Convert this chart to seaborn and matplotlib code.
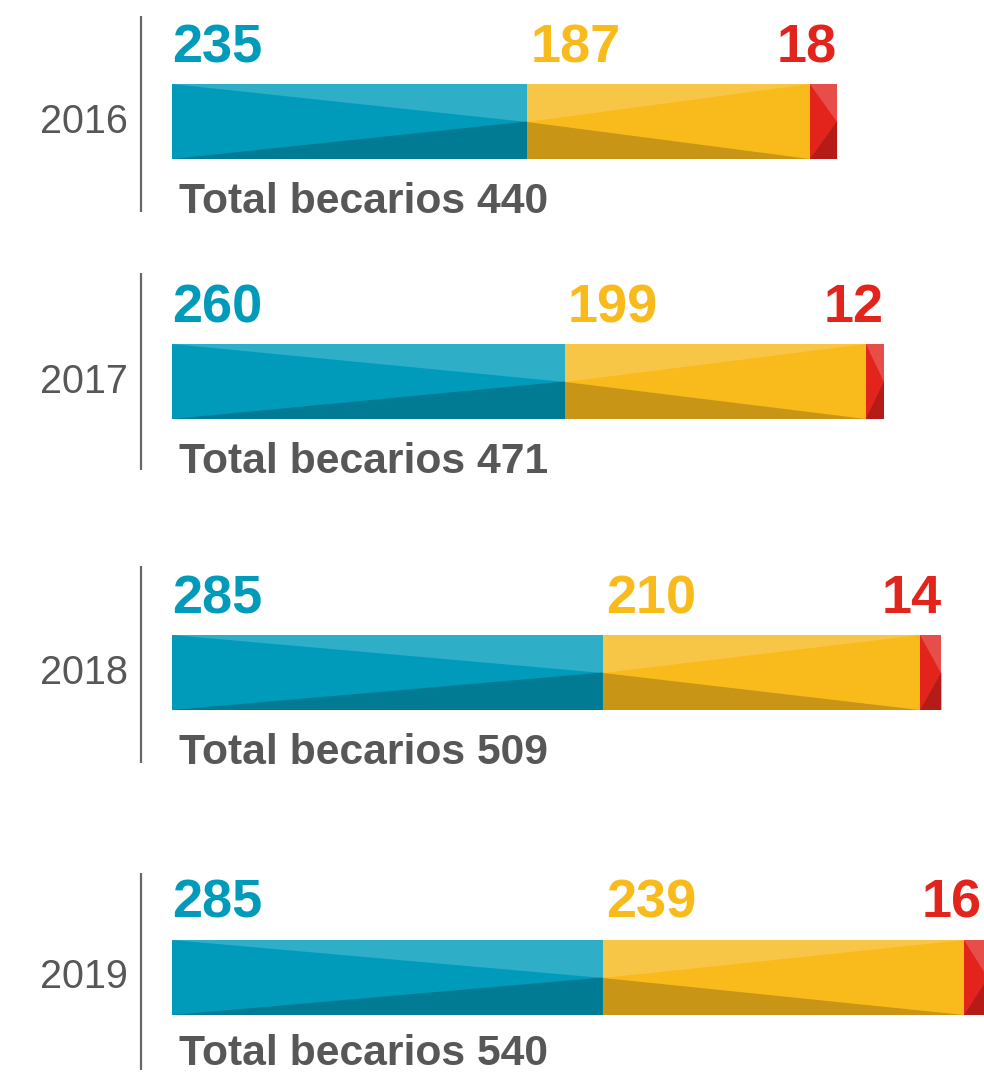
import numpy as np
import pandas as pd
import seaborn as sns
import matplotlib.pyplot as plt

# ==========================================
# DATOS
# ==========================================
years = ['2016', '2017', '2018', '2019']
grupo_a = [235, 260, 285, 285]   # azul
grupo_b = [187, 199, 210, 239]   # amarillo
grupo_c = [18, 12, 14, 16]       # rojo
totales = [440, 471, 509, 540]
total_label = 'Total becarios'

# ==========================================
# ESTILO / LAYOUT (en píxeles de la imagen)
# ==========================================
W, H = 984, 1073
PX_PER_UNIT = 1.5115
X0_PX = 172                       # inicio de las barras
bar_top = [84, 344, 635, 940]
bar_h = 75
total_gap = [54, 54, 54, 50]      # baseline del total bajo la barra
line_top = [16, 273, 566, 873]
line_bot = [212, 470, 763, 1070]
LINE_X_PX = 141

base = {'a': '#009BBB', 'b': '#F9BA1C', 'c': '#E3241C'}
light = {'a': '#2FAEC8', 'b': '#F8C646', 'c': '#E84E49'}
dark = {'a': '#017B93', 'b': '#C99517', 'c': '#B51C18'}
GREY = '#575757'

sns.set_style('white')
plt.rcParams['font.family'] = ['Liberation Sans', 'DejaVu Sans']

fig = plt.figure(figsize=(W / 100, H / 100), dpi=100)

def px2x(px):
    return (px - X0_PX) / PX_PER_UNIT

for i, yr in enumerate(years):
    a, b, c = grupo_a[i], grupo_b[i], grupo_c[i]
    rect = [0, 1 - (bar_top[i] + bar_h) / H, 1, bar_h / H]
    ax = fig.add_axes(rect)

    # barras apiladas: se dibuja de mayor a menor acumulado
    row = pd.DataFrame({'year': [yr], 'c': [a + b + c], 'b': [a + b], 'a': [a]})
    for key in ['c', 'b', 'a']:
        sns.barplot(data=row, x=key, y='year', orient='h', color=base[key],
                    width=1.0, saturation=1, ax=ax, linewidth=0)

    ax.set_xlim(px2x(0), px2x(W))
    ax.set_ylim(-0.5, 0.5)
    ax.axis('off')

    # sombreado triangular de cada segmento
    segs = [('a', 0, a), ('b', a, a + b), ('c', a + b, a + b + c)]
    for key, x0, x1 in segs:
        if key == 'b':
            ax.fill([x0, x0, x1], [0, 0.5, 0.5], color=light[key], lw=0)
            ax.fill([x0, x0, x1], [0, -0.5, -0.5], color=dark[key], lw=0)
        else:
            ax.fill([x0, x1, x1], [0.5, 0.5, 0], color=light[key], lw=0)
            ax.fill([x0, x1, x1], [-0.5, 0, -0.5], color=dark[key], lw=0)

    # etiquetas de valores
    y_val = 0.5 + 22 / bar_h
    ax.text(0, y_val, str(a), color=base['a'], fontsize=39, fontweight='bold',
            ha='left', va='baseline', clip_on=False)
    ax.text(a + 2, y_val, str(b), color=base['b'], fontsize=39, fontweight='bold',
            ha='left', va='baseline', clip_on=False)
    x_c = min(a + b + c, px2x(W - 2))
    ax.text(x_c, y_val, str(c), color=base['c'], fontsize=39, fontweight='bold',
            ha='right', va='baseline', clip_on=False)

    # total
    ax.text(px2x(179), -0.5 - total_gap[i] / bar_h, f'{total_label} {totales[i]}',
            color=GREY, fontsize=30.7, fontweight='bold', ha='left', va='baseline',
            clip_on=False)

    # año y línea vertical
    ax.text(px2x(128), 0, yr, color=GREY, fontsize=28.5, ha='right', va='center',
            clip_on=False)
    y1 = 0.5 + (bar_top[i] - line_top[i]) / bar_h
    y2 = -0.5 - (line_bot[i] - bar_top[i] - bar_h) / bar_h
    ax.plot([px2x(LINE_X_PX)] * 2, [y1, y2], color='#666666', lw=1.6,
            clip_on=False, solid_capstyle='butt')

plt.savefig('out.png', dpi=100)
